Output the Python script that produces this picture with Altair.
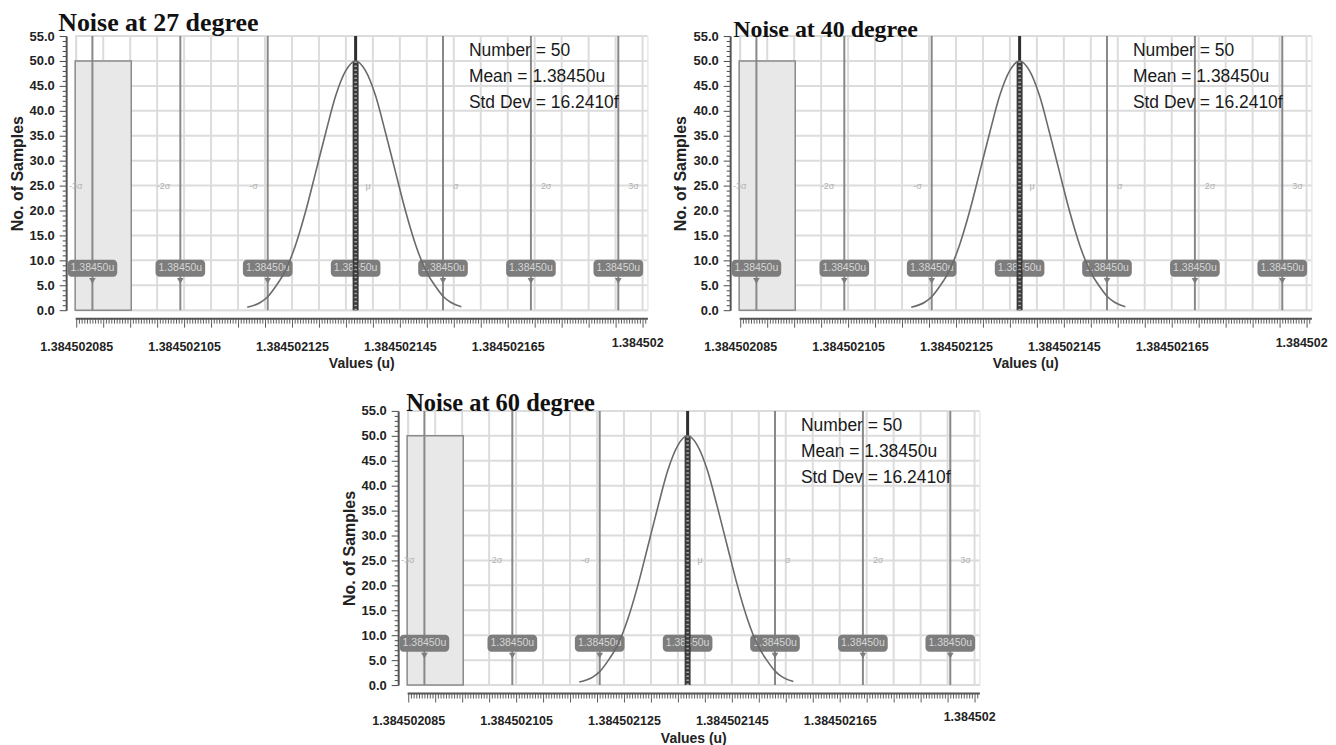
import json
import altair as alt
import pandas as pd

# ---------------- data ----------------
panel_titles = ["Noise at 27 degree", "Noise at 40 degree", "Noise at 60 degree"]

# x values are expressed as 1.384502xxx u  ->  xxx (units of 1e-15)
hist_start = [84.8]
hist_end = [95.2]
hist_count = [50]

sigma_names = ["-3σ", "-2σ", "-σ", "μ", "σ", "2σ", "3σ"]
sigma_x = [88.0, 104.3, 120.5, 136.8, 153.0, 169.3, 185.5]
tag_texts = ["1.38450u"] * 7

curve_x = [116.7, 119.2, 120.5, 122.0, 123.9, 125.7, 127.6, 129.4, 131.3, 133.1, 135.0,
           136.8, 138.6, 140.5, 142.3, 144.2, 146.0, 147.9, 149.7, 151.6, 153.1, 154.4, 156.4]
curve_y = [0.6, 1.6, 2.7, 4.8, 8.2, 13.2, 20.1, 27.7, 35.8, 43.0, 48.1,
           50.0, 48.1, 43.0, 35.8, 27.7, 20.1, 13.2, 8.2, 4.8, 2.7, 1.6, 0.7]

stats_lines = ["Number = 50", "Mean = 1.38450u", "Std Dev = 16.2410f"]
stats_y = [52.0, 46.7, 41.5]
stats_x = [157.8, 157.8, 157.8]

x_label_values = [85, 105, 125, 145, 165, 189]
x_label_texts = ["1.384502085", "1.384502105", "1.384502125",
                 "1.384502145", "1.384502165", "1.384502"]
x_tick_values = [85 + 0.5 * i for i in range(212)]
y_tick_values = list(range(0, 56))
grid_x = list(range(85, 191, 5))
grid_y = list(range(0, 56, 5))

# ---------------- style ----------------
SANS = "Liberation Sans, Arial, sans-serif"
SERIF = "Liberation Serif, Times New Roman, serif"
title_dx = [-17, -6, -1]
title_offset = [-6, -12, -12]
title_size = [26, 24, 24.5]
TAG_HALF = 4.6
TAG_LOW, TAG_HIGH = 6.7, 10.1
POINTER_Y = 5.9
SIGMA_LABEL_Y = 25
W, H = 574, 275

xs = alt.Scale(domain=[84.8, 190.9], nice=False, zero=False)
ys = alt.Scale(domain=[0, 55], nice=False, zero=False)

label_expr = (f"indexof({json.dumps(x_label_values)}, datum.value) >= 0 ? "
              f"{json.dumps(x_label_texts)}[indexof({json.dumps(x_label_values)}, datum.value)] : ''")

x_axis = alt.Axis(
    values=x_tick_values, labelExpr=label_expr, title="Values (u)", grid=False,
    offset=8, domainColor="#555", domainWidth=2, tickColor="#4a4a4a", tickWidth=0.9,
    tickRound=False,
    tickSize={"condition": {"test": "datum.value % 5 === 0", "value": 9}, "value": 5},
    labelFont=SANS, labelFontSize=12.5, labelFontWeight="bold", labelColor="#222",
    labelPadding=13, labelOverlap=False, labelFlush=False, labelBound=False,
    titleFont=SANS, titleFontSize=14, titleFontWeight="bold", titleColor="#222",
    titlePadding=4,
)
y_axis = alt.Axis(
    values=y_tick_values,
    labelExpr="datum.value % 5 === 0 ? format(datum.value, '.1f') : ''",
    title="No. of Samples", grid=False, offset=9, domainColor="#555", domainWidth=2,
    tickColor="#4a4a4a", tickWidth=1,
    tickSize={"condition": {"test": "datum.value % 5 === 0", "value": 7}, "value": 4},
    labelFont=SANS, labelFontSize=13, labelFontWeight="bold", labelColor="#222",
    labelPadding=5, labelOverlap=False, labelFlush=False, labelBound=False,
    titleFont=SANS, titleFontSize=16, titleFontWeight="bold", titleColor="#222",
    titlePadding=4,
)


def X(field):
    return alt.X(field, type="quantitative", scale=xs, axis=x_axis)


def Y(field):
    return alt.Y(field, type="quantitative", scale=ys, axis=y_axis)


def panel(i):
    gx = alt.Chart(pd.DataFrame({"x": grid_x})).mark_rule(
        color="#dcdcdc", strokeWidth=2).encode(x=X("x"))
    gy = alt.Chart(pd.DataFrame({"y": grid_y})).mark_rule(
        color="#dcdcdc", strokeWidth=2).encode(y=Y("y"))

    hist = alt.Chart(pd.DataFrame({"x0": hist_start, "x1": hist_end, "c": hist_count,
                                   "z": [0] * len(hist_count)})).mark_rect(
        fill="#e8e8e8", stroke="#8a8a8a", strokeWidth=1.5).encode(
        x=X("x0"), x2="x1", y=Y("c"), y2="z")

    sig_df = pd.DataFrame({"x": sigma_x, "name": sigma_names, "tag": tag_texts,
                           "lo": [0] * 7, "hi": [55] * 7})
    sig_lines = alt.Chart(sig_df[sig_df["name"] != "μ"]).mark_rule(
        color="#888888", strokeWidth=2).encode(x=X("x"), y=Y("lo"), y2="hi")

    neg_labels = alt.Chart(sig_df.iloc[:3]).mark_text(
        align="right", dx=-10, fontSize=9, color="#b0b0b0", font=SANS).encode(
        x=X("x"), y=alt.Y("yy:Q", scale=ys, axis=y_axis), text="name").transform_calculate(
        yy=str(SIGMA_LABEL_Y))
    pos_labels = alt.Chart(sig_df.iloc[3:]).mark_text(
        align="left", dx=10, fontSize=9, color="#b0b0b0", font=SANS).encode(
        x=X("x"), y=alt.Y("yy:Q", scale=ys, axis=y_axis), text="name").transform_calculate(
        yy=str(SIGMA_LABEL_Y))

    tags = alt.Chart(sig_df).transform_calculate(
        t0=f"datum.x - {TAG_HALF}", t1=f"datum.x + {TAG_HALF}",
        b0=str(TAG_LOW), b1=str(TAG_HIGH)).mark_rect(
        fill="#7d7d7d", cornerRadius=4).encode(
        x=alt.X("t0:Q", scale=xs, axis=x_axis), x2="t1:Q",
        y=alt.Y("b0:Q", scale=ys, axis=y_axis), y2="b1:Q")
    pointers = alt.Chart(sig_df).transform_calculate(py=str(POINTER_Y)).mark_point(
        shape="triangle-down", filled=True, size=45, color="#7d7d7d", opacity=1).encode(
        x=X("x"), y=alt.Y("py:Q", scale=ys, axis=y_axis))
    tag_text = alt.Chart(sig_df).transform_calculate(
        ty=str((TAG_LOW + TAG_HIGH) / 2)).mark_text(
        fontSize=10.5, color="#d6d6d6", font=SANS, baseline="middle").encode(
        x=X("x"), y=alt.Y("ty:Q", scale=ys, axis=y_axis), text="tag")

    mu_df = sig_df[sig_df["name"] == "μ"].assign(top=[50])
    mu_thin = alt.Chart(mu_df).mark_rule(color="#2e2e2e", strokeWidth=3).encode(
        x=X("x"), y=Y("lo"), y2="hi")
    mu_thick = alt.Chart(mu_df).mark_rule(color="#3a3a3a", strokeWidth=6).encode(
        x=X("x"), y=Y("lo"), y2="top")
    mu_beads = alt.Chart(mu_df).mark_rule(
        color="#a8a8a8", strokeWidth=2.5, strokeDash=[1.5, 2.5]).encode(
        x=X("x"), y=Y("lo"), y2="top")

    curve = alt.Chart(pd.DataFrame({"x": curve_x, "y": curve_y})).mark_line(
        color="#6a6a6a", strokeWidth=1.6, interpolate="monotone").encode(
        x=X("x"), y=Y("y"))

    stats = alt.Chart(pd.DataFrame({"x": stats_x, "y": stats_y, "t": stats_lines})).mark_text(
        align="left", baseline="middle", fontSize=17.5, font=SANS, color="#1a1a1a").encode(
        x=X("x"), y=Y("y"), text="t")

    return alt.layer(
        gx, gy, hist, sig_lines, neg_labels, pos_labels, tags, pointers, tag_text,
        mu_thin, mu_thick, mu_beads, curve, stats,
    ).properties(
        width=W, height=H,
        title=alt.TitleParams(
            panel_titles[i], anchor="start", frame="group", font=SERIF,
            fontSize=title_size[i], fontWeight="bold", color="#111",
            dx=title_dx[i], offset=title_offset[i]),
    )


top = alt.hconcat(panel(0), panel(1), spacing=8)
chart = alt.vconcat(top, panel(2), spacing=20, center=True).configure_view(
    stroke="#dcdcdc", strokeWidth=2).configure(background="white", padding=0)

chart.save("out.html", embed_options={"renderer": "svg", "actions": False})
